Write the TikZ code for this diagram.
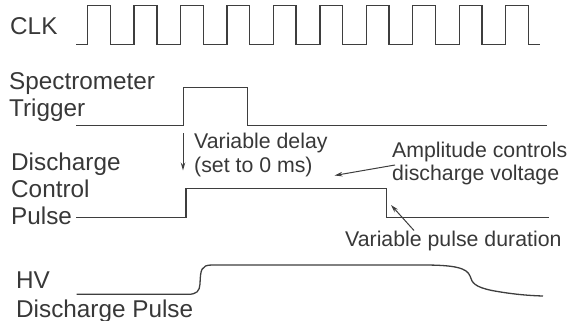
\documentclass[tikz,border=0pt]{standalone}
\usepackage{fontspec}
\setmainfont{Liberation Sans}
\usetikzlibrary{arrows.meta}
\definecolor{ink}{HTML}{3E3E3E}
\definecolor{txt}{HTML}{383838}
\tikzset{
  wave/.style={draw=ink, line width=1.4pt, line join=miter},
  lbl/.style={anchor=base west, inner sep=0pt, text=txt, font=\fontsize{24.3}{28}\selectfont},
  note/.style={anchor=base west, inner sep=0pt, text=txt, font=\fontsize{21.3}{24}\selectfont},
  pointer/.style={draw=ink, line width=1pt, -{Stealth[length=8pt,width=4.5pt]}},
}
\begin{document}
\begin{tikzpicture}[x=1pt,y=-1pt]
  \useasboundingbox (0,0) rectangle (573,321);

  % signal names
  \node[lbl] (clk) at (10,35) {CLK};
  \node[lbl] (spec1) at (9,89) {Spectrometer};
  \node[lbl] (spec2) at (9,116) {Trigger};
  \node[lbl] (dcp1) at (11,170) {Discharge};
  \node[lbl] (dcp2) at (11,197) {Control};
  \node[lbl] (dcp3) at (11,224) {Pulse};
  \node[lbl] (hv1) at (16,288) {HV};
  \node[lbl] (hv2) at (16,317) {Discharge Pulse};

  % clock: ten pulses
  \draw[wave] (76,44.3)
    \foreach \k in {0,...,9} {
      -- ({87.7+46.44*\k},44.3) -- ++(0,-38.6) -- ++(22.7,0) -- ++(0,38.6)
    } -- (540,44.3);

  % spectrometer trigger
  \draw[wave] (76,125.7) -- (183.3,125.7) -- (183.3,87.3) -- (247.7,87.3)
    -- (247.7,125.7) -- (547,125.7);

  % discharge control pulse
  \draw[wave] (76,217.3) -- (186,217.3) -- (186,188.3) -- (386.7,188.3)
    -- (386.7,217.3) -- (549,217.3);

  % HV discharge pulse
  \draw[wave, line width=1.3pt] (76.7,294.3) -- (188,294.3)
    .. controls (197,294.3) and (199.5,291) .. (200,284)
    .. controls (200.5,270) and (201,265) .. (212,265)
    -- (423,265)
    .. controls (455,265) and (467,268) .. (470,276)
    .. controls (472,283) and (475,287) .. (492,290.5)
    .. controls (508,293.5) and (525,295.5) .. (543,296);

  % annotations
  \node[note] (delay1) at (194,148) {Variable delay};
  \node[note] (delay2) at (194,172.5) {(set to 0 ms)};
  \node[note] (amp1) at (392,157) {Amplitude controls};
  \node[note] (amp2) at (392,180) {discharge voltage};
  \node[note] (dur) at (345,246.5) {Variable pulse duration};

  \coordinate (delaytail) at (183,133);
  \coordinate (delaytip) at (183,170.5);
  \coordinate (amptail) at (395,165);
  \coordinate (amptip) at (334.5,175.5);
  \coordinate (durtail) at (414,230.5);
  \coordinate (durtip) at (391,205);

  \draw[pointer] (delaytail) -- (delaytip);
  \draw[pointer] (amptail) -- (amptip);
  \draw[pointer] (durtail) -- (durtip);
\end{tikzpicture}
\end{document}
